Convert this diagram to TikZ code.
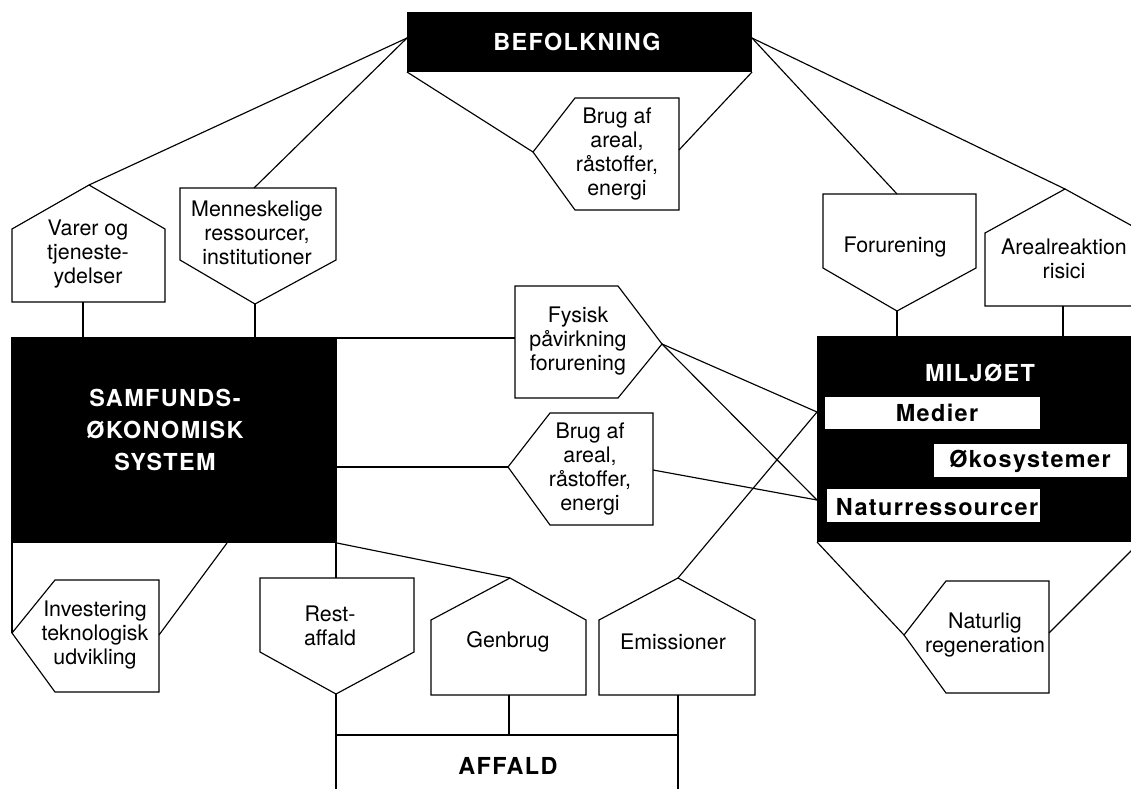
\documentclass[tikz,border=0pt]{standalone}
\usepackage{fontspec}
\setmainfont{TeX Gyre Heros}
\newfontfamily\headfamily{TeX Gyre Heros}[LetterSpace=6]
\begin{document}
\begin{tikzpicture}[x=1pt,y=-1pt,
  line width=1.15pt, line join=miter,
  blackbox/.style={fill=black,inner sep=0pt},
  whitebar/.style={fill=white},
  pent/.style={draw,fill=white},
  link/.style={draw},
  lbl/.style={align=center,inner sep=0pt,font=\fontsize{21.4}{23.8}\selectfont},
  head/.style={align=center,inner sep=0pt,text=white,font=\headfamily\bfseries\fontsize{23.4}{32}\selectfont},
  tag/.style={inner sep=0pt,anchor=base,text=black,font=\headfamily\bfseries\fontsize{23.4}{32}\selectfont}]
\useasboundingbox (0,0) rectangle (1131,789);
\clip (0,0) rectangle (1131,789);

% ---------- main blocks ----------
\node[blackbox,minimum width=345pt,minimum height=60pt] (bef) at (579.5,42) {};
\node[blackbox,minimum width=326pt,minimum height=206pt] (samf) at (174,440) {};
\node[blackbox,minimum width=328pt,minimum height=206pt] (milj) at (981,439) {};

% attachment points on the blocks
\coordinate (bef-l) at (407,38);
\coordinate (bef-r) at (752,38);
\coordinate (bef-bl) at (407,72);
\coordinate (bef-br) at (752,72);
\coordinate (samf-tr) at (337,338);
\coordinate (samf-r) at (337,467);
\coordinate (samf-bl) at (12,543);
\coordinate (samf-b) at (227,543);
\coordinate (samf-rest) at (336,543);
\coordinate (samf-br) at (337,543);
\coordinate (samf-varer) at (83,337);
\coordinate (samf-menn) at (255,337);
\coordinate (milj-med) at (817,412);
\coordinate (milj-nat) at (817,500);
\coordinate (milj-for) at (897,336);
\coordinate (milj-are) at (1063,336);
\coordinate (milj-bl) at (817,542);
\coordinate (milj-br) at (1140,542);
\coordinate (aff-l) at (336,735);
\coordinate (aff-r) at (678,735);
\coordinate (aff-lb) at (336,789);
\coordinate (aff-rb) at (678,789);
\coordinate (aff-gen) at (509,735);

% ---------- pentagon shapes ----------
% up-pointing
\draw[pent] (89,185) coordinate (varer-tip) -- (165,229) -- (165,302) -- (12,302) -- (12,229) -- cycle;
\coordinate (varer-foot) at (83,302);
\draw[pent] (1065,189) coordinate (are-tip) -- (1145,233) -- (1145,306) -- (985,306) -- (985,233) -- cycle;
\coordinate (are-foot) at (1063,306);
\draw[pent] (510,578) coordinate (gen-tip) -- (586,620) -- (586,695) -- (431,695) -- (431,620) -- cycle;
\coordinate (gen-foot) at (509,695);
\draw[pent] (678,578) coordinate (emi-tip) -- (755,620) -- (755,695) -- (599,695) -- (599,620) -- cycle;
\coordinate (emi-foot) at (678,695);
% down-pointing
\draw[pent] (180,188) -- (336,188) -- (336,260) -- (255,304) coordinate (menn-tip) -- (180,260) -- cycle;
\coordinate (menn-top) at (254,188);
\draw[pent] (823,194) -- (976,194) -- (976,268) -- (897,311) coordinate (for-tip) -- (823,268) -- cycle;
\coordinate (for-top) at (897,194);
\draw[pent] (260,578) -- (414,578) -- (414,652) -- (336,694) coordinate (rest-tip) -- (260,652) -- cycle;
\coordinate (rest-top) at (336,578);
% left-pointing
\draw[pent] (533,152) coordinate (brug1-tip) -- (575,98) -- (679,98) -- (679,210) -- (575,210) -- cycle;
\coordinate (brug1-r) at (679,150);
\draw[pent] (508,467) coordinate (brug2-tip) -- (550,413) -- (653,413) -- (653,525) -- (550,525) -- cycle;
\coordinate (brug2-r) at (653,470);
\draw[pent] (12,633) coordinate (inv-tip) -- (55,580) -- (159,580) -- (159,692) -- (55,692) -- cycle;
\coordinate (inv-r) at (159,635);
\draw[pent] (904,635) coordinate (nat-tip) -- (946,581) -- (1049,581) -- (1049,693) -- (946,693) -- cycle;
\coordinate (nat-r) at (1049,633);
% right-pointing
\draw[pent] (515,286) -- (618,286) -- (662,344) coordinate (fys-tip) -- (618,398) -- (515,398) -- cycle;
\coordinate (fys-l) at (515,338);

% ---------- connectors ----------
\draw[link] (bef-l) -- (varer-tip);
\draw[link] (bef-l) -- (menn-top);
\draw[link] (bef-bl) -- (brug1-tip);
\draw[link] (bef-br) -- (brug1-r);
\draw[link] (bef-r) -- (for-top);
\draw[link] (bef-r) -- (are-tip);
\draw[link] (varer-foot) -- (samf-varer);
\draw[link] (menn-tip) -- (samf-menn);
\draw[link] (for-tip) -- (milj-for);
\draw[link] (are-foot) -- (milj-are);
\draw[link] (samf-tr) -- (fys-l);
\draw[link] (fys-tip) -- (milj-med);
\draw[link] (fys-tip) -- (milj-nat);
\draw[link] (samf-r) -- (brug2-tip);
\draw[link] (brug2-r) -- (milj-nat);
\draw[link] (emi-tip) -- (milj-med);
\draw[link] (samf-bl) -- (inv-tip);
\draw[link] (samf-b) -- (inv-r);
\draw[link] (samf-rest) -- (rest-top);
\draw[link] (samf-br) -- (gen-tip);
\draw[link] (milj-bl) -- (nat-tip);
\draw[link] (milj-br) -- (nat-r);
\draw[link] (rest-tip) -- (aff-lb);
\draw[link] (aff-l) -- (aff-r);
\draw[link] (gen-foot) -- (aff-gen);
\draw[link] (emi-foot) -- (aff-rb);

% ---------- environment sub-blocks ----------
\fill[whitebar] (825,397) rectangle (1040,429);
\fill[whitebar] (934,444) rectangle (1127,477);
\fill[whitebar] (827,489) rectangle (1040,522);

% ---------- texts ----------
\node[head] (bef-t) at (577,42) {BEFOLKNING};
\node[head] (samf-t) at (165,430) {SAMFUNDS-\\ØKONOMISK\\SYSTEM};
\node[head,anchor=base] (milj-t) at (980,381) {MILJØET};
\node[tag] (medier) at (937,421) {Medier};
\node[tag] (oko) at (1030,467) {Økosystemer};
\node[tag] (natres) at (937,515) {Naturressourcer};
\node[tag] (affald) at (508,774) {AFFALD};

\node[lbl] (varer) at (88,254) {Varer og\\tjeneste-\\ydelser};
\node[lbl] (menn) at (257,233) {Menneskelige\\ressourcer,\\institutioner};
\node[lbl] (brug1) at (617,154) {Brug af\\areal,\\råstoffer,\\energi};
\node[lbl] (foru) at (895,247) {Forurening};
\node[lbl] (areal) at (1064,259) {Arealreaktion\\risici};
\node[lbl] (fys) at (578,341) {Fysisk\\påvirkning\\forurening};
\node[lbl] (brug2) at (590,469) {Brug af\\areal,\\råstoffer,\\energi};
\node[lbl] (inv) at (95,635) {Investering\\teknologisk\\udvikling};
\node[lbl] (rest) at (330,626) {Rest-\\affald};
\node[lbl] (genb) at (508,642) {Genbrug};
\node[lbl] (emis) at (673,642) {Emissioner};
\node[lbl] (natur) at (985,635) {Naturlig\\regeneration};
\end{tikzpicture}
\end{document}
